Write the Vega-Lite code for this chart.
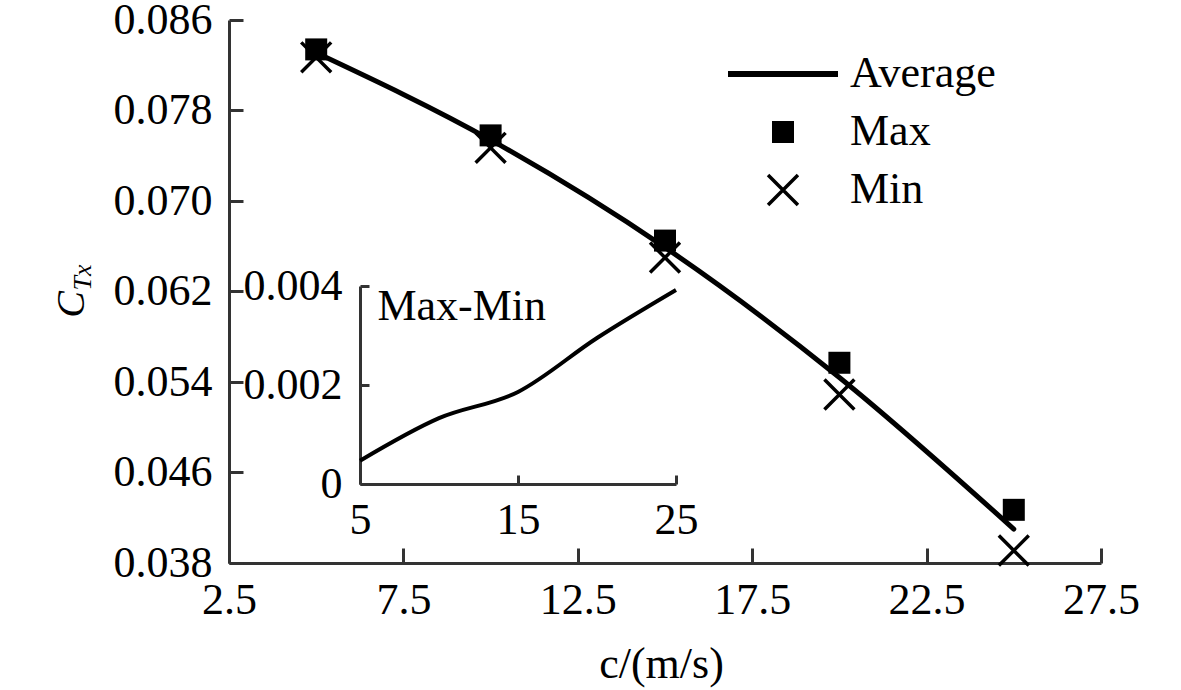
{
  "$schema": "https://vega.github.io/schema/vega-lite/v6.json",
  "description": "Thrust coefficient C_Tx versus speed c, with an inset of Max-Min.",
  "width": 872,
  "height": 543,
  "autosize": {"type": "none"},
  "padding": {"left": 229, "top": 20, "right": 80, "bottom": 127},
  "background": "white",
  "config": {
    "view": {"stroke": null},
    "font": "Liberation Serif",
    "axis": {
      "grid": false,
      "domainColor": "#333333",
      "domainWidth": 3,
      "tickColor": "#333333",
      "tickWidth": 3,
      "labelFont": "Liberation Serif",
      "labelFontSize": 44,
      "labelColor": "black",
      "labelOverlap": false,
      "labelFlush": false,
      "titleFont": "Liberation Serif",
      "titleColor": "black",
      "titleFontWeight": "normal"
    },
    "legend": {
      "labelFont": "Liberation Serif",
      "labelFontSize": 44,
      "labelColor": "black",
      "labelLimit": 0
    }
  },
  "datasets": {
    "main": [
      {"c": 5, "CTx": 0.0831, "series": "Average"},
      {"c": 10, "CTx": 0.0754, "series": "Average"},
      {"c": 15, "CTx": 0.0659, "series": "Average"},
      {"c": 20, "CTx": 0.0544, "series": "Average"},
      {"c": 25, "CTx": 0.041, "series": "Average"},
      {"c": 5, "CTx": 0.0834, "series": "Max"},
      {"c": 10, "CTx": 0.0758, "series": "Max"},
      {"c": 15, "CTx": 0.0665, "series": "Max"},
      {"c": 20, "CTx": 0.0557, "series": "Max"},
      {"c": 25, "CTx": 0.0427, "series": "Max"},
      {"c": 5, "CTx": 0.0827, "series": "Min"},
      {"c": 10, "CTx": 0.0747, "series": "Min"},
      {"c": 15, "CTx": 0.065, "series": "Min"},
      {"c": 20, "CTx": 0.0529, "series": "Min"},
      {"c": 25, "CTx": 0.0391, "series": "Min"}
    ],
    "inset": [
      {"c": 5, "diff": 0.00047},
      {"c": 10, "diff": 0.00133},
      {"c": 15, "diff": 0.00186},
      {"c": 20, "diff": 0.00295},
      {"c": 25, "diff": 0.00392}
    ],
    "note": [
      {"c": 6.1, "diff": 0.00331, "label": "Max-Min"}
    ]
  },
  "layer": [
    {
      "data": {"name": "main"},
      "encoding": {
        "x": {
          "field": "c",
          "type": "quantitative",
          "scale": {"domain": [2.5, 27.5], "nice": false, "zero": false},
          "axis": {
            "values": [2.5, 7.5, 12.5, 17.5, 22.5, 27.5],
            "format": ".1f",
            "tickSize": -15,
            "labelPadding": 30,
            "title": "c/(m/s)",
            "titleFontSize": 44,
            "titleX": 432,
            "titleY": 114,
            "titleAlign": "center",
            "titleBaseline": "alphabetic"
          }
        },
        "y": {
          "field": "CTx",
          "type": "quantitative",
          "scale": {"domain": [0.038, 0.086], "nice": false, "zero": false},
          "axis": {
            "values": [0.038, 0.046, 0.054, 0.062, 0.07, 0.078, 0.086],
            "format": ".3f",
            "tickSize": -14,
            "labelPadding": 31,
            "title": "C",
            "titleFontSize": 40,
            "titleFontStyle": "italic",
            "titleAngle": 270,
            "titleX": -146,
            "titleY": 284,
            "titleAlign": "center",
            "titleBaseline": "alphabetic"
          }
        }
      },
      "layer": [
        {
          "transform": [{"filter": "datum.series === 'Average'"}],
          "mark": {
            "type": "line",
            "color": "black",
            "strokeWidth": 5,
            "interpolate": "monotone",
            "strokeCap": "round"
          }
        },
        {
          "transform": [{"filter": "datum.series !== 'Average'"}],
          "mark": {
            "type": "point",
            "filled": false,
            "opacity": 1,
            "size": 484,
            "strokeWidth": 3.5
          },
          "encoding": {
            "shape": {
              "field": "series",
              "type": "nominal",
              "scale": {
                "domain": ["Average", "Max", "Min"],
                "range": ["M-5,-0.27H5V0.27H-5Z", "square", "M-1.36,-1.36L1.36,1.36M1.36,-1.36L-1.36,1.36"]
              },
              "legend": {
                "orient": "none",
                "legendX": 532,
                "legendY": 32,
                "title": null,
                "padding": 0,
                "labelOffset": 45,
                "rowPadding": 14,
                "symbolSize": 484,
                "symbolStrokeWidth": 3.5,
                "symbolOpacity": 1
              }
            },
            "fill": {
              "field": "series",
              "type": "nominal",
              "scale": {
                "domain": ["Average", "Max", "Min"],
                "range": ["black", "black", "transparent"]
              },
              "legend": {
                "orient": "none",
                "legendX": 532,
                "legendY": 32,
                "title": null,
                "padding": 0,
                "labelOffset": 45,
                "rowPadding": 14,
                "symbolSize": 484,
                "symbolStrokeWidth": 3.5,
                "symbolOpacity": 1
              }
            },
            "stroke": {
              "field": "series",
              "type": "nominal",
              "scale": {
                "domain": ["Average", "Max", "Min"],
                "range": ["transparent", "transparent", "black"]
              },
              "legend": {
                "orient": "none",
                "legendX": 532,
                "legendY": 32,
                "title": null,
                "padding": 0,
                "labelOffset": 45,
                "rowPadding": 14,
                "symbolSize": 484,
                "symbolStrokeWidth": 3.5,
                "symbolOpacity": 1
              }
            }
          }
        }
      ]
    },
    {
      "encoding": {
        "x": {
          "field": "c",
          "type": "quantitative",
          "scale": {"domain": [5, 25], "range": [131, 447], "nice": false, "zero": false},
          "axis": {
            "orient": "bottom",
            "offset": -79,
            "values": [5, 15, 25],
            "format": "d",
            "tickSize": -9,
            "labelPadding": 23,
            "title": null
          }
        },
        "y": {
          "field": "diff",
          "type": "quantitative",
          "scale": {"domain": [0, 0.004], "range": [464, 266], "nice": false, "zero": false},
          "axis": {
            "orient": "left",
            "offset": -131,
            "values": [0, 0.002, 0.004],
            "format": "~g",
            "tickSize": -9,
            "labelPadding": 27,
            "title": "Tx",
            "titleFontSize": 26,
            "titleFontStyle": "italic",
            "titleAngle": 270,
            "titleX": -270,
            "titleY": 257,
            "titleAlign": "center",
            "titleBaseline": "alphabetic"
          }
        }
      },
      "layer": [
        {
          "data": {"name": "inset"},
          "mark": {
            "type": "line",
            "color": "black",
            "strokeWidth": 4,
            "interpolate": "monotone"
          }
        },
        {
          "data": {"name": "note"},
          "mark": {
            "type": "text",
            "align": "left",
            "baseline": "alphabetic",
            "font": "Liberation Serif",
            "fontSize": 44,
            "color": "black"
          },
          "encoding": {
            "text": {"field": "label", "type": "nominal"}
          }
        }
      ]
    }
  ],
  "resolve": {
    "scale": {"x": "independent", "y": "independent"}
  }
}
